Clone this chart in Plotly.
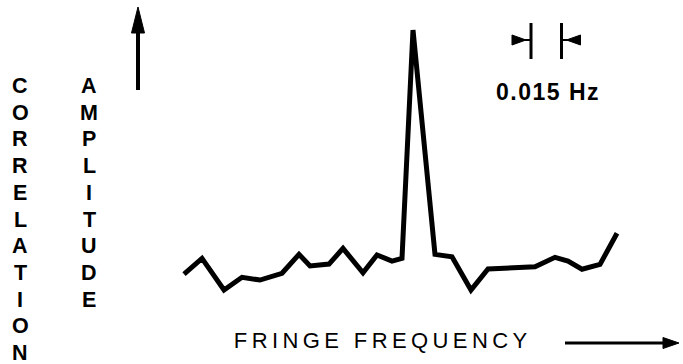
import plotly.graph_objects as go

# ---- data ----
freq_hz = [0.0000, 0.0090, 0.0200, 0.0290, 0.0380, 0.0490, 0.0575, 0.0630, 0.0725,
           0.0795, 0.0895, 0.0965, 0.1040, 0.1090, 0.1145, 0.1255, 0.1340, 0.1435,
           0.1520, 0.1630, 0.1755, 0.1855, 0.1920, 0.1990, 0.2080, 0.2165]
amplitude = [0.096, 0.154, 0.037, 0.084, 0.074, 0.099, 0.169, 0.126, 0.133,
             0.191, 0.101, 0.167, 0.144, 0.154, 1.000, 0.169, 0.160, 0.037,
             0.115, 0.117, 0.123, 0.158, 0.144, 0.114, 0.132, 0.247]
corr_letters = list("CORRELATION")
amp_letters = list("AMPLITUDE")
x_label = "FRINGE FREQUENCY"
scale_label = "0.015 Hz"

# ---- layout geometry ----
W, H = 683, 364
X0_PX, HZ_PER_PX = 184, 0.0005
Y0_PX, AMP_PER_PX = 300, 1 / 270
FONT = "Liberation Sans, Arial, Helvetica, sans-serif"
LETTER_STEP = 26.7


def px(xp):
    return xp / W


def py(yp):
    return 1 - yp / H


def seg(x0, y0, x1, y1, w):
    return dict(type="line", xref="paper", yref="paper",
                x0=px(x0), y0=py(y0), x1=px(x1), y1=py(y1),
                line=dict(color="black", width=w))


def tri(pts):
    d = "M " + " L ".join(f"{px(a):.5f},{py(b):.5f}" for a, b in pts) + " Z"
    return dict(type="path", xref="paper", yref="paper", path=d,
                fillcolor="black", line=dict(color="black", width=1))


fig = go.Figure(go.Scatter(
    x=freq_hz, y=amplitude, mode="lines",
    line=dict(color="black", width=5),
    hoverinfo="skip",
))

shapes = [
    # vertical (amplitude) arrow
    seg(138, 90, 138, 30, 4),
    tri([(138, 7), (131.5, 33), (144.5, 33)]),
    # horizontal (frequency) arrow
    seg(565, 343, 665, 343, 3),
    tri([(679, 343), (663, 337.5), (663, 348.5)]),
    # 0.015 Hz resolution marker
    seg(531, 23, 531, 59, 3),
    seg(522, 40, 531, 40, 2),
    tri([(526, 40), (512, 35), (512, 45)]),
    seg(561.5, 23, 561.5, 59, 3),
    seg(561.5, 40, 570, 40, 2),
    tri([(566.5, 40), (580.5, 35), (580.5, 45)]),
]

annotations = []
for i, ch in enumerate(corr_letters):
    annotations.append(dict(text=ch, x=px(20), y=py(86 + i * LETTER_STEP),
                            font=dict(size=21.5, weight="bold")))
for i, ch in enumerate(amp_letters):
    annotations.append(dict(text=ch, x=px(89), y=py(86 + i * LETTER_STEP),
                            font=dict(size=21.5, weight="bold")))
annotations += [
    dict(text=x_label, x=px(383), y=py(340), font=dict(size=22, weight="normal")),
    dict(text=scale_label, x=px(548), y=py(92), font=dict(size=23, weight="bold")),
]
for a in annotations:
    a.update(xref="paper", yref="paper", showarrow=False, align="center",
             xanchor="center", yanchor="middle")
    a["font"].update(family=FONT, color="black")

fig.update_layout(
    width=W, height=H,
    margin=dict(l=0, r=0, t=0, b=0),
    paper_bgcolor="white", plot_bgcolor="white",
    showlegend=False,
    xaxis=dict(range=[(0 - X0_PX) * HZ_PER_PX, (W - X0_PX) * HZ_PER_PX],
               visible=False, fixedrange=True),
    yaxis=dict(range=[(Y0_PX - H) * AMP_PER_PX, Y0_PX * AMP_PER_PX],
               visible=False, fixedrange=True),
    shapes=shapes,
    annotations=annotations,
)

post = """
var gd = document.getElementById('{plot_id}');
function fixStyle(){
  document.body.style.margin = '0';
  document.querySelectorAll('text.annotation-text').forEach(function(t){
    var s = t.textContent;
    if (s === 'FRINGE FREQUENCY') { t.style.letterSpacing = '4.4px'; }
    else if (s === '0.015 Hz') { t.style.letterSpacing = '1.5px'; }
  });
}
fixStyle();
if (gd && gd.on) { gd.on('plotly_afterplot', fixStyle); }
setTimeout(fixStyle, 50);
"""

fig.write_html("out.html", config={"displayModeBar": False}, post_script=post)
